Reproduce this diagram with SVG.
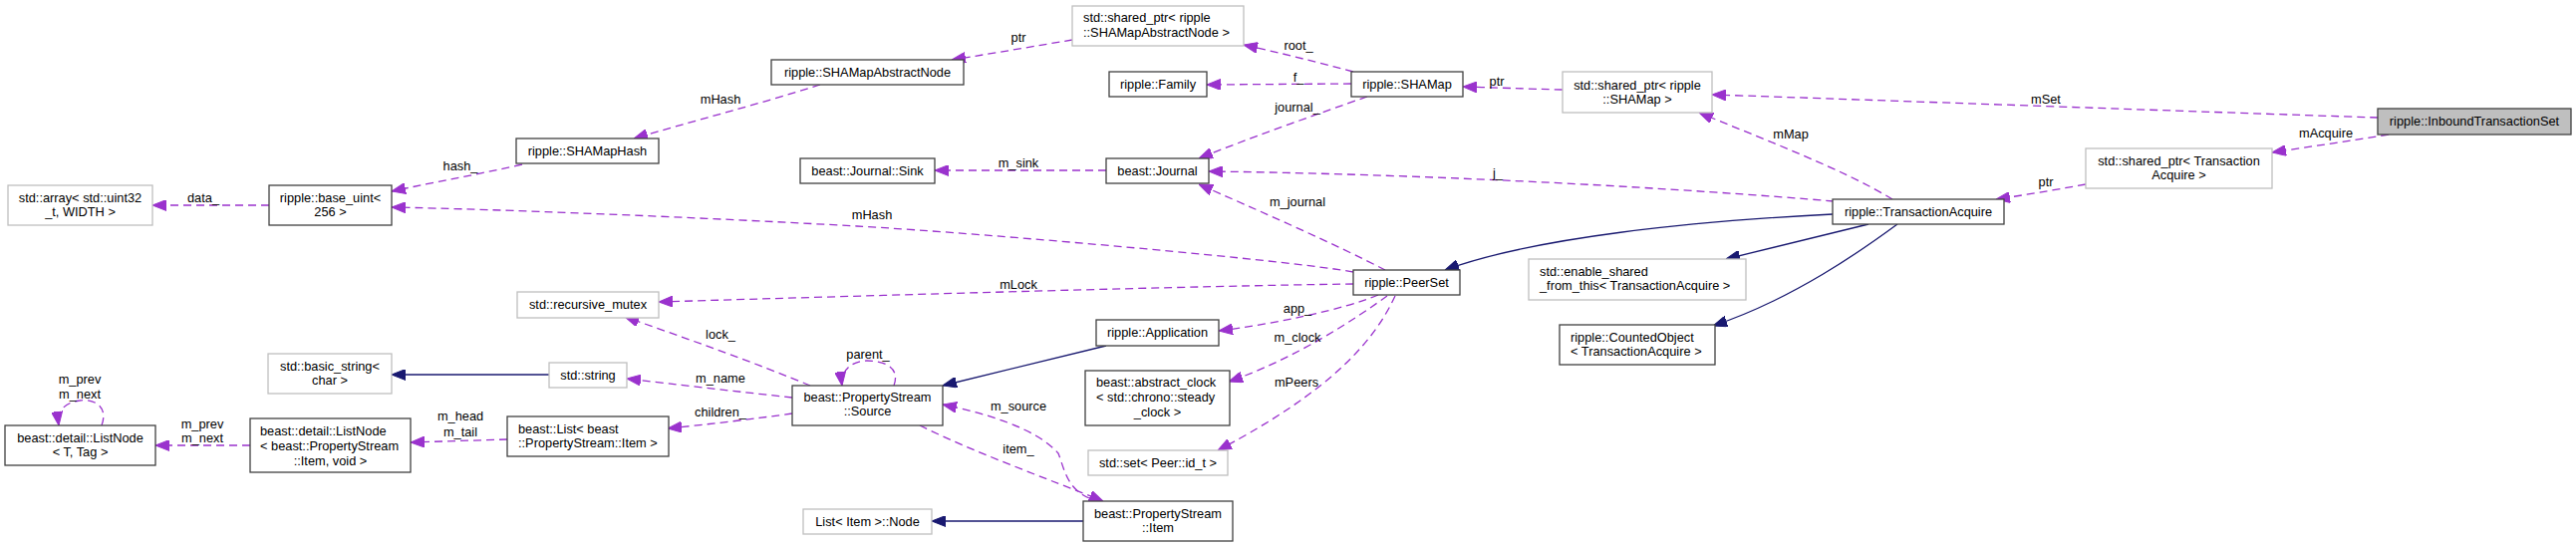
<svg xmlns="http://www.w3.org/2000/svg" width="2585" height="549" viewBox="0 0 2585 549">
<style>
.n{fill:#fff;stroke:#404040;stroke-width:1.3}
.g{fill:#fff;stroke:#bfbfbf;stroke-width:1.3}
.h{fill:#bfbfbf;stroke:#404040;stroke-width:1.3}
text{font-family:"Liberation Sans",Arial,sans-serif;font-size:12.8px;fill:#000}
.m{text-anchor:middle}
.e{fill:none;stroke:#9a32cd;stroke-width:1.3;stroke-dasharray:8,5;marker-end:url(#ap)}
.b{fill:none;stroke:#191970;stroke-width:1.3;marker-end:url(#ab)}
</style>
<defs>
<marker id="ap" markerUnits="userSpaceOnUse" markerWidth="14" markerHeight="11" refX="14" refY="5.5" orient="auto" viewBox="0 0 14 11"><path d="M0,0L14,5.5L0,11z" fill="#9a32cd" stroke="#9a32cd" stroke-width="1"/></marker>
<marker id="ab" markerUnits="userSpaceOnUse" markerWidth="14" markerHeight="11" refX="14" refY="5.5" orient="auto" viewBox="0 0 14 11"><path d="M0,0L14,5.5L0,11z" fill="#191970" stroke="#191970" stroke-width="1"/></marker>
</defs>
<rect width="2585" height="549" fill="#fff"/>
<g id="connectors">
<path class="e" d="M270,206L153,206"/>
<path class="e" d="M524,165C480,175 440,182 393,192"/>
<path class="e" d="M823,85C760,105 690,123 636,139"/>
<path class="e" d="M1076,40C1040,46 1000,53 955,60"/>
<path class="e" d="M1358,72C1320,62 1285,53 1248,45"/>
<path class="e" d="M1356,84L1211,85"/>
<path class="e" d="M1372,97C1320,115 1250,140 1203,159"/>
<path class="e" d="M1110,171L938,171"/>
<path class="e" d="M1568,90C1530,89 1500,88 1468,87"/>
<path class="e" d="M2386,118C2200,112 1900,101 1718,95"/>
<path class="e" d="M2397,135C2360,141 2320,147 2280,153"/>
<path class="e" d="M2093,185C2060,191 2030,196 2003,200"/>
<path class="e" d="M1899,200C1850,170 1770,140 1705,113"/>
<path class="e" d="M1840,202C1700,190 1450,175 1213,172"/>
<path class="e" d="M1358,273C1300,262 1000,235 860,227C700,218 500,210 393,208"/>
<path class="e" d="M1358,285C1200,287 900,296 661,303"/>
<path class="e" d="M1390,271C1340,245 1260,210 1203,185"/>
<path class="e" d="M1383,296C1350,310 1280,325 1223,332"/>
<path class="e" d="M1392,297C1360,320 1300,360 1233,383"/>
<path class="e" d="M1400,297C1380,340 1340,390 1222,452"/>
<path class="e" d="M813,387C760,365 690,340 627,318"/>
<path class="e" d="M795,399C740,393 680,386 629,380"/>
<path class="e" d="M795,415C760,420 710,426 670,430"/>
<path class="e" d="M509,441L412,444"/>
<path class="e" d="M251,447L156,447"/>
<path class="e" d="M102,427C110,405 90,400 80,402C65,404 57,412 59,427"/>
<path class="e" d="M897,387C905,365 880,362 870,362C855,362 843,372 845,387"/>
<path class="e" d="M1093,500C1070,490 1068,470 1062,455C1040,430 990,415 946,406"/>
<path class="e" d="M923,427C980,455 1050,480 1107,503"/>
<path class="b" d="M551,376L393,376"/>
<path class="b" d="M1110,347L946,387"/>
<path class="b" d="M1087,523L935,523"/>
<path class="b" d="M1839,215C1700,222 1540,238 1450,271"/>
<path class="b" d="M1875,225L1732,260"/>
<path class="b" d="M1904,225C1870,250 1800,300 1719,327"/>
<text class="m" x="204" y="202.5">data_</text>
<text class="m" x="462" y="170.5">hash_</text>
<text class="m" x="723" y="103.5">mHash</text>
<text class="m" x="1022" y="41.5">ptr</text>
<text class="m" x="1303" y="49.5">root_</text>
<text class="m" x="1303" y="81.5">f_</text>
<text class="m" x="1302" y="111.5">journal_</text>
<text class="m" x="1022" y="167.5">m_sink</text>
<text class="m" x="1502" y="85.5">ptr</text>
<text class="m" x="2053" y="103.5">mSet</text>
<text class="m" x="2334" y="137.5">mAcquire</text>
<text class="m" x="2053" y="186.5">ptr</text>
<text class="m" x="1797" y="138.5">mMap</text>
<text class="m" x="1503" y="177.5">j_</text>
<text class="m" x="875" y="219.5">mHash</text>
<text class="m" x="1022" y="289.5">mLock</text>
<text class="m" x="1302" y="206.5">m_journal</text>
<text class="m" x="1302" y="313.5">app_</text>
<text class="m" x="1302" y="342.5">m_clock</text>
<text class="m" x="1301" y="387.5">mPeers</text>
<text class="m" x="723" y="339.5">lock_</text>
<text class="m" x="723" y="383.5">m_name</text>
<text class="m" x="723" y="417.5">children_</text>
<text class="m" x="462" y="421.5">m_head</text>
<text class="m" x="462" y="437.5">m_tail</text>
<text class="m" x="203" y="429.5">m_prev</text>
<text class="m" x="203" y="443.5">m_next</text>
<text class="m" x="80" y="384.5">m_prev</text>
<text class="m" x="80" y="399.5">m_next</text>
<text class="m" x="871" y="359.5">parent_</text>
<text class="m" x="1022" y="411.5">m_source</text>
<text class="m" x="1022" y="454.5">item_</text>
</g>
<g id="n_array"><rect class="g" x="8" y="186" width="145" height="40"/><text class="m" x="80.5" y="202.5">std::array&lt; std::uint32</text><text class="m" x="80.5" y="216.5">_t, WIDTH &gt;</text></g>
<g id="n_base_uint"><rect class="n" x="270" y="186" width="123" height="40"/><text class="m" x="331.5" y="202.5">ripple::base_uint&lt;</text><text class="m" x="331.5" y="216.5">256 &gt;</text></g>
<g id="n_shamaphash"><rect class="n" x="518" y="139" width="143" height="25"/><text class="m" x="589.5" y="156">ripple::SHAMapHash</text></g>
<g id="n_shamapabs"><rect class="n" x="774" y="60" width="193" height="25"/><text class="m" x="870.5" y="77">ripple::SHAMapAbstractNode</text></g>
<g id="n_sp_abs"><rect class="g" x="1076" y="6" width="172" height="40"/><text x="1087" y="22">std::shared_ptr&lt; ripple</text><text x="1087" y="36.5">::SHAMapAbstractNode &gt;</text></g>
<g id="n_family"><rect class="n" x="1113" y="72" width="98" height="25"/><text class="m" x="1162" y="89">ripple::Family</text></g>
<g id="n_sink"><rect class="n" x="803" y="159" width="135" height="25"/><text class="m" x="870.5" y="176">beast::Journal::Sink</text></g>
<g id="n_journal"><rect class="n" x="1110" y="159" width="103" height="25"/><text class="m" x="1161.5" y="176">beast::Journal</text></g>
<g id="n_shamap"><rect class="n" x="1356" y="72" width="112" height="25"/><text class="m" x="1412" y="89">ripple::SHAMap</text></g>
<g id="n_sp_shamap"><rect class="g" x="1568" y="72" width="150" height="41"/><text class="m" x="1643" y="89.5">std::shared_ptr&lt; ripple</text><text class="m" x="1643" y="103.5">::SHAMap &gt;</text></g>
<g id="n_ta"><rect class="n" x="1839" y="200" width="172" height="25"/><text class="m" x="1925" y="216.5">ripple::TransactionAcquire</text></g>
<g id="n_sp_ta"><rect class="g" x="2093" y="149" width="187" height="40"/><text class="m" x="2186.5" y="165.5">std::shared_ptr&lt; Transaction</text><text class="m" x="2186.5" y="179.5">Acquire &gt;</text></g>
<g id="n_its"><rect class="h" x="2386" y="109" width="194" height="26"/><text class="m" x="2483" y="125.5">ripple::InboundTransactionSet</text></g>
<g id="n_peerset"><rect class="n" x="1358" y="271" width="107" height="25"/><text class="m" x="1411.5" y="288">ripple::PeerSet</text></g>
<g id="n_esft"><rect class="g" x="1534" y="260" width="218" height="41"/><text x="1545" y="276.5">std::enable_shared</text><text x="1545" y="290.5">_from_this&lt; TransactionAcquire &gt;</text></g>
<g id="n_counted"><rect class="n" x="1565" y="326" width="156" height="40"/><text x="1576" y="342.5">ripple::CountedObject</text><text x="1576" y="356.5">&lt; TransactionAcquire &gt;</text></g>
<g id="n_mutex"><rect class="g" x="519" y="293" width="142" height="26"/><text class="m" x="590" y="309.5">std::recursive_mutex</text></g>
<g id="n_string"><rect class="g" x="551" y="364" width="78" height="25"/><text class="m" x="590" y="380.5">std::string</text></g>
<g id="n_basic_string"><rect class="g" x="269" y="355" width="124" height="40"/><text class="m" x="331" y="371.5">std::basic_string&lt;</text><text class="m" x="331" y="386">char &gt;</text></g>
<g id="n_list"><rect class="n" x="509" y="418" width="162" height="40"/><text x="520" y="434.5">beast::List&lt; beast</text><text x="520" y="448.5">::PropertyStream::Item &gt;</text></g>
<g id="n_listnode_item"><rect class="n" x="251" y="420" width="161" height="54"/><text x="261" y="436.5">beast::detail::ListNode</text><text x="261" y="451.5">&lt; beast::PropertyStream</text><text class="m" x="331.5" y="466.5">::Item, void &gt;</text></g>
<g id="n_listnode"><rect class="n" x="5" y="427" width="151" height="40"/><text class="m" x="80.5" y="443.5">beast::detail::ListNode</text><text class="m" x="80.5" y="457.5">&lt; T, Tag &gt;</text></g>
<g id="n_source"><rect class="n" x="795" y="387" width="151" height="40"/><text class="m" x="870.5" y="402.5">beast::PropertyStream</text><text class="m" x="870.5" y="417">::Source</text></g>
<g id="n_app"><rect class="n" x="1100" y="321" width="123" height="26"/><text class="m" x="1161.5" y="337.5">ripple::Application</text></g>
<g id="n_clock"><rect class="n" x="1089" y="372" width="145" height="55"/><text x="1100" y="387.5">beast::abstract_clock</text><text x="1100" y="402.5">&lt; std::chrono::steady</text><text class="m" x="1161.5" y="417.5">_clock &gt;</text></g>
<g id="n_set"><rect class="g" x="1092" y="452" width="140" height="25"/><text class="m" x="1162" y="468.5">std::set&lt; Peer::id_t &gt;</text></g>
<g id="n_item"><rect class="n" x="1087" y="503" width="150" height="40"/><text class="m" x="1162" y="519.5">beast::PropertyStream</text><text class="m" x="1162" y="533.5">::Item</text></g>
<g id="n_listitemnode"><rect class="g" x="806" y="511" width="129" height="25"/><text class="m" x="870.5" y="527.5">List&lt; Item &gt;::Node</text></g>
</svg>
